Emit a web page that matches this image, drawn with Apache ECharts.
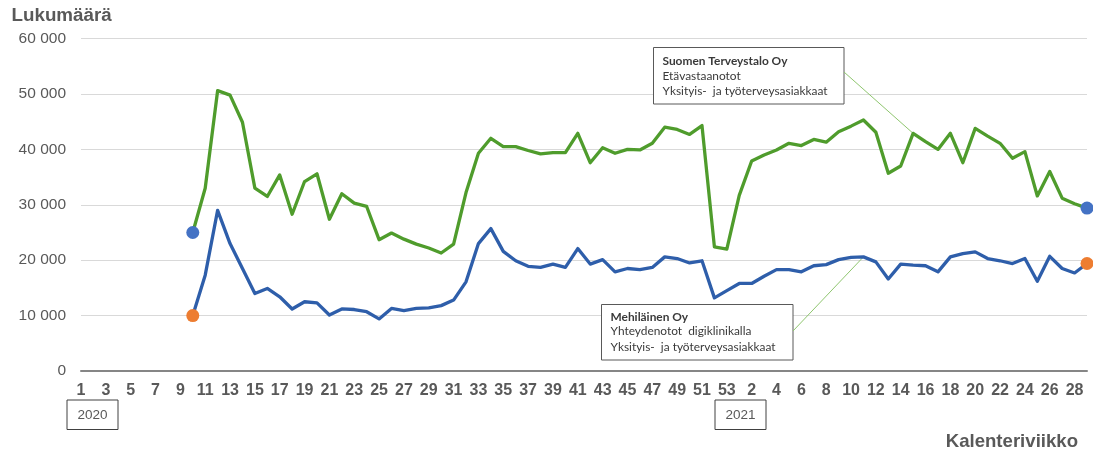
<!DOCTYPE html>
<html><head><meta charset="utf-8">
<script src="https://cdn.jsdelivr.net/npm/echarts@6/dist/echarts.min.js"></script>
<style>html,body{margin:0;padding:0;background:#fff}#c{width:1093px;height:454px}</style>
</head><body><div id="c"></div>
<script>
// Calendar weeks: 2020 weeks 1-53, then 2021 weeks 1-29
const weekLabels = [
 '1','2','3','4','5','6','7','8','9','10','11','12','13','14','15','16','17','18','19','20',
 '21','22','23','24','25','26','27','28','29','30','31','32','33','34','35','36','37','38','39','40',
 '41','42','43','44','45','46','47','48','49','50','51','52','53',
 '1','2','3','4','5','6','7','8','9','10','11','12','13','14','15','16','17','18','19','20',
 '21','22','23','24','25','26','27','28','29'
];
const yearLabels = ['2020', '2021'];
const yTicks = [0, 10000, 20000, 30000, 40000, 50000, 60000];

// Suomen Terveystalo Oy – Etävastaanotot
const terveystalo = [
 null,null,null,null,null,null,null,null,null,
 25000,33000,50600,49800,44900,33000,31500,35400,28300,34200,35600,
 27400,32000,30300,29700,23700,24900,23800,22900,22200,21300,
 22900,32200,39300,42000,40500,40500,39800,39200,39400,39400,
 42900,37600,40300,39300,40000,39900,41100,44000,43600,42700,
 44300,22400,22000,
 31700,37900,39000,39900,41100,40700,41800,41300,43200,44200,
 45300,43100,35700,37000,42900,41400,40000,42900,37600,43800,
 42400,41100,38400,39600,31600,36000,31200,30200,29400
];
// Mehiläinen Oy – Yhteydenotot digiklinikalla
const mehilainen = [
 null,null,null,null,null,null,null,null,null,
 10000,17300,29000,23000,18500,14000,14900,13400,11200,12500,12300,
 10100,11200,11100,10700,9400,11300,10900,11300,11400,11800,
 12800,16100,23000,25700,21600,19900,18900,18700,19300,18700,
 22100,19300,20100,17900,18500,18300,18700,20600,20300,19500,
 19900,13200,14500,
 15800,15800,17100,18300,18300,17900,19000,19200,20100,20500,
 20600,19700,16600,19300,19100,19000,17900,20600,21200,21500,
 20300,19900,19400,20300,16200,20700,18500,17700,19400
];
const annTerveystalo = ['Suomen Terveystalo Oy', 'Etävastaanotot', 'Yksityis-  ja työterveysasiakkaat'];
const annMehilainen = ['Mehiläinen Oy', 'Yhteydenotot  digiklinikalla', 'Yksityis-  ja työterveysasiakkaat'];

function ends(arr) {
  let f = arr.findIndex(v => v != null);
  let l = arr.length - 1;
  while (arr[l] == null) l--;
  return [[f, arr[f]], [l, arr[l]]];
}

const chart = echarts.init(document.getElementById('c'), null, {renderer: 'canvas'});
const grey = '#595959';
chart.setOption({
  animation: false,
  backgroundColor: '#fff',
  grid: {left: 81, right: 6, top: 38.6, bottom: 83, containLabel: false, outerBoundsMode: 'none'},
  xAxis: {
    type: 'category', data: weekLabels, boundaryGap: false,
    axisLine: {lineStyle: {color: '#868686', width: 2}},
    axisTick: {show: false},
    axisLabel: {interval: 1, margin: 12, color: grey, fontFamily: 'Arial, Liberation Sans', fontWeight: 'bold', fontSize: 16},
    splitLine: {show: false}
  },
  yAxis: {
    type: 'value', min: yTicks[0], max: yTicks[yTicks.length-1], interval: 10000,
    axisLine: {show: false}, axisTick: {show: false},
    axisLabel: {margin: 15, color: grey, fontFamily: 'Arial, Liberation Sans', fontSize: 15.5,
      formatter: v => String(v).replace(/\B(?=(\d{3})+(?!\d))/g, ' ')},
    splitLine: {lineStyle: {color: '#d9d9d9', width: 1}}
  },
  series: [
    {type: 'line', name: 'Terveystalo', data: terveystalo, symbol: 'none', connectNulls: false,
     lineStyle: {color: '#4f9c2c', width: 3.3, join: 'round'}, z: 3},
    {type: 'line', name: 'Mehiläinen', data: mehilainen, symbol: 'none',
     lineStyle: {color: '#2e5eaa', width: 3.3, join: 'round'}, z: 3},
    {type: 'scatter', data: ends(terveystalo), symbolSize: 13, itemStyle: {color: '#4472c4', opacity: 1}, z: 4},
    {type: 'scatter', data: ends(mehilainen), symbolSize: 13, itemStyle: {color: '#ed7d31', opacity: 1}, z: 4}
  ]
});

const p1 = chart.convertToPixel({seriesIndex: 0}, [67, terveystalo[67]]);
const p2 = chart.convertToPixel({seriesIndex: 1}, [63, mehilainen[63]]);
const annFont = 'Lato, "Open Sans", sans-serif';
function annBox(x, y, w, h, lines, lineYs) {
  const ch = [{type: 'rect', shape: {x: x, y: y, width: w, height: h},
    style: {fill: '#fff', stroke: '#595959', lineWidth: 1}}];
  lines.forEach((t, i) => ch.push({type: 'text', x: x + 9, y: lineYs[i],
    style: {text: t, fill: '#3a3a3a', font: (i === 0 ? 'bold ' : '') + '11.9px ' + annFont, textVerticalAlign: 'middle'}}));
  return {type: 'group', z: 10, children: ch};
}
function yearBox(x, t) {
  return {type: 'group', z: 10, children: [
    {type: 'rect', shape: {x: x, y: 400, width: 51, height: 29.5}, style: {fill: '#fff', stroke: '#404040', lineWidth: 1}},
    {type: 'text', x: x + 25.5, y: 415, style: {text: t, fill: grey, font: '13.5px Arial, "Liberation Sans"', textAlign: 'center', textVerticalAlign: 'middle'}}
  ]};
}
chart.setOption({
  graphic: [
    {type: 'text', x: 11.5, y: 16, style: {text: 'Lukumäärä', fill: grey, font: 'bold 18.8px Arial, "Liberation Sans"', textVerticalAlign: 'middle'}},
    {type: 'text', x: 1078, y: 441.5, style: {text: 'Kalenteriviikko', fill: grey, font: 'bold 18.6px Arial, "Liberation Sans"', textAlign: 'right', textVerticalAlign: 'middle'}},
    {type: 'line', z: 1, shape: {x1: 844, y1: 72, x2: p1[0], y2: p1[1]}, style: {stroke: '#8fc66f', lineWidth: 1}},
    {type: 'line', z: 1, shape: {x1: 793, y1: 331, x2: p2[0], y2: p2[1]}, style: {stroke: '#8fc66f', lineWidth: 1}},
    annBox(653.5, 47.5, 190.5, 56.5, annTerveystalo, [60.7, 75.9, 91.2]),
    annBox(601.5, 304.5, 191.5, 55.5, annMehilainen, [317, 331.5, 346.7]),
    yearBox(67, yearLabels[0]),
    yearBox(715, yearLabels[1])
  ]
});
</script>
</body></html>
